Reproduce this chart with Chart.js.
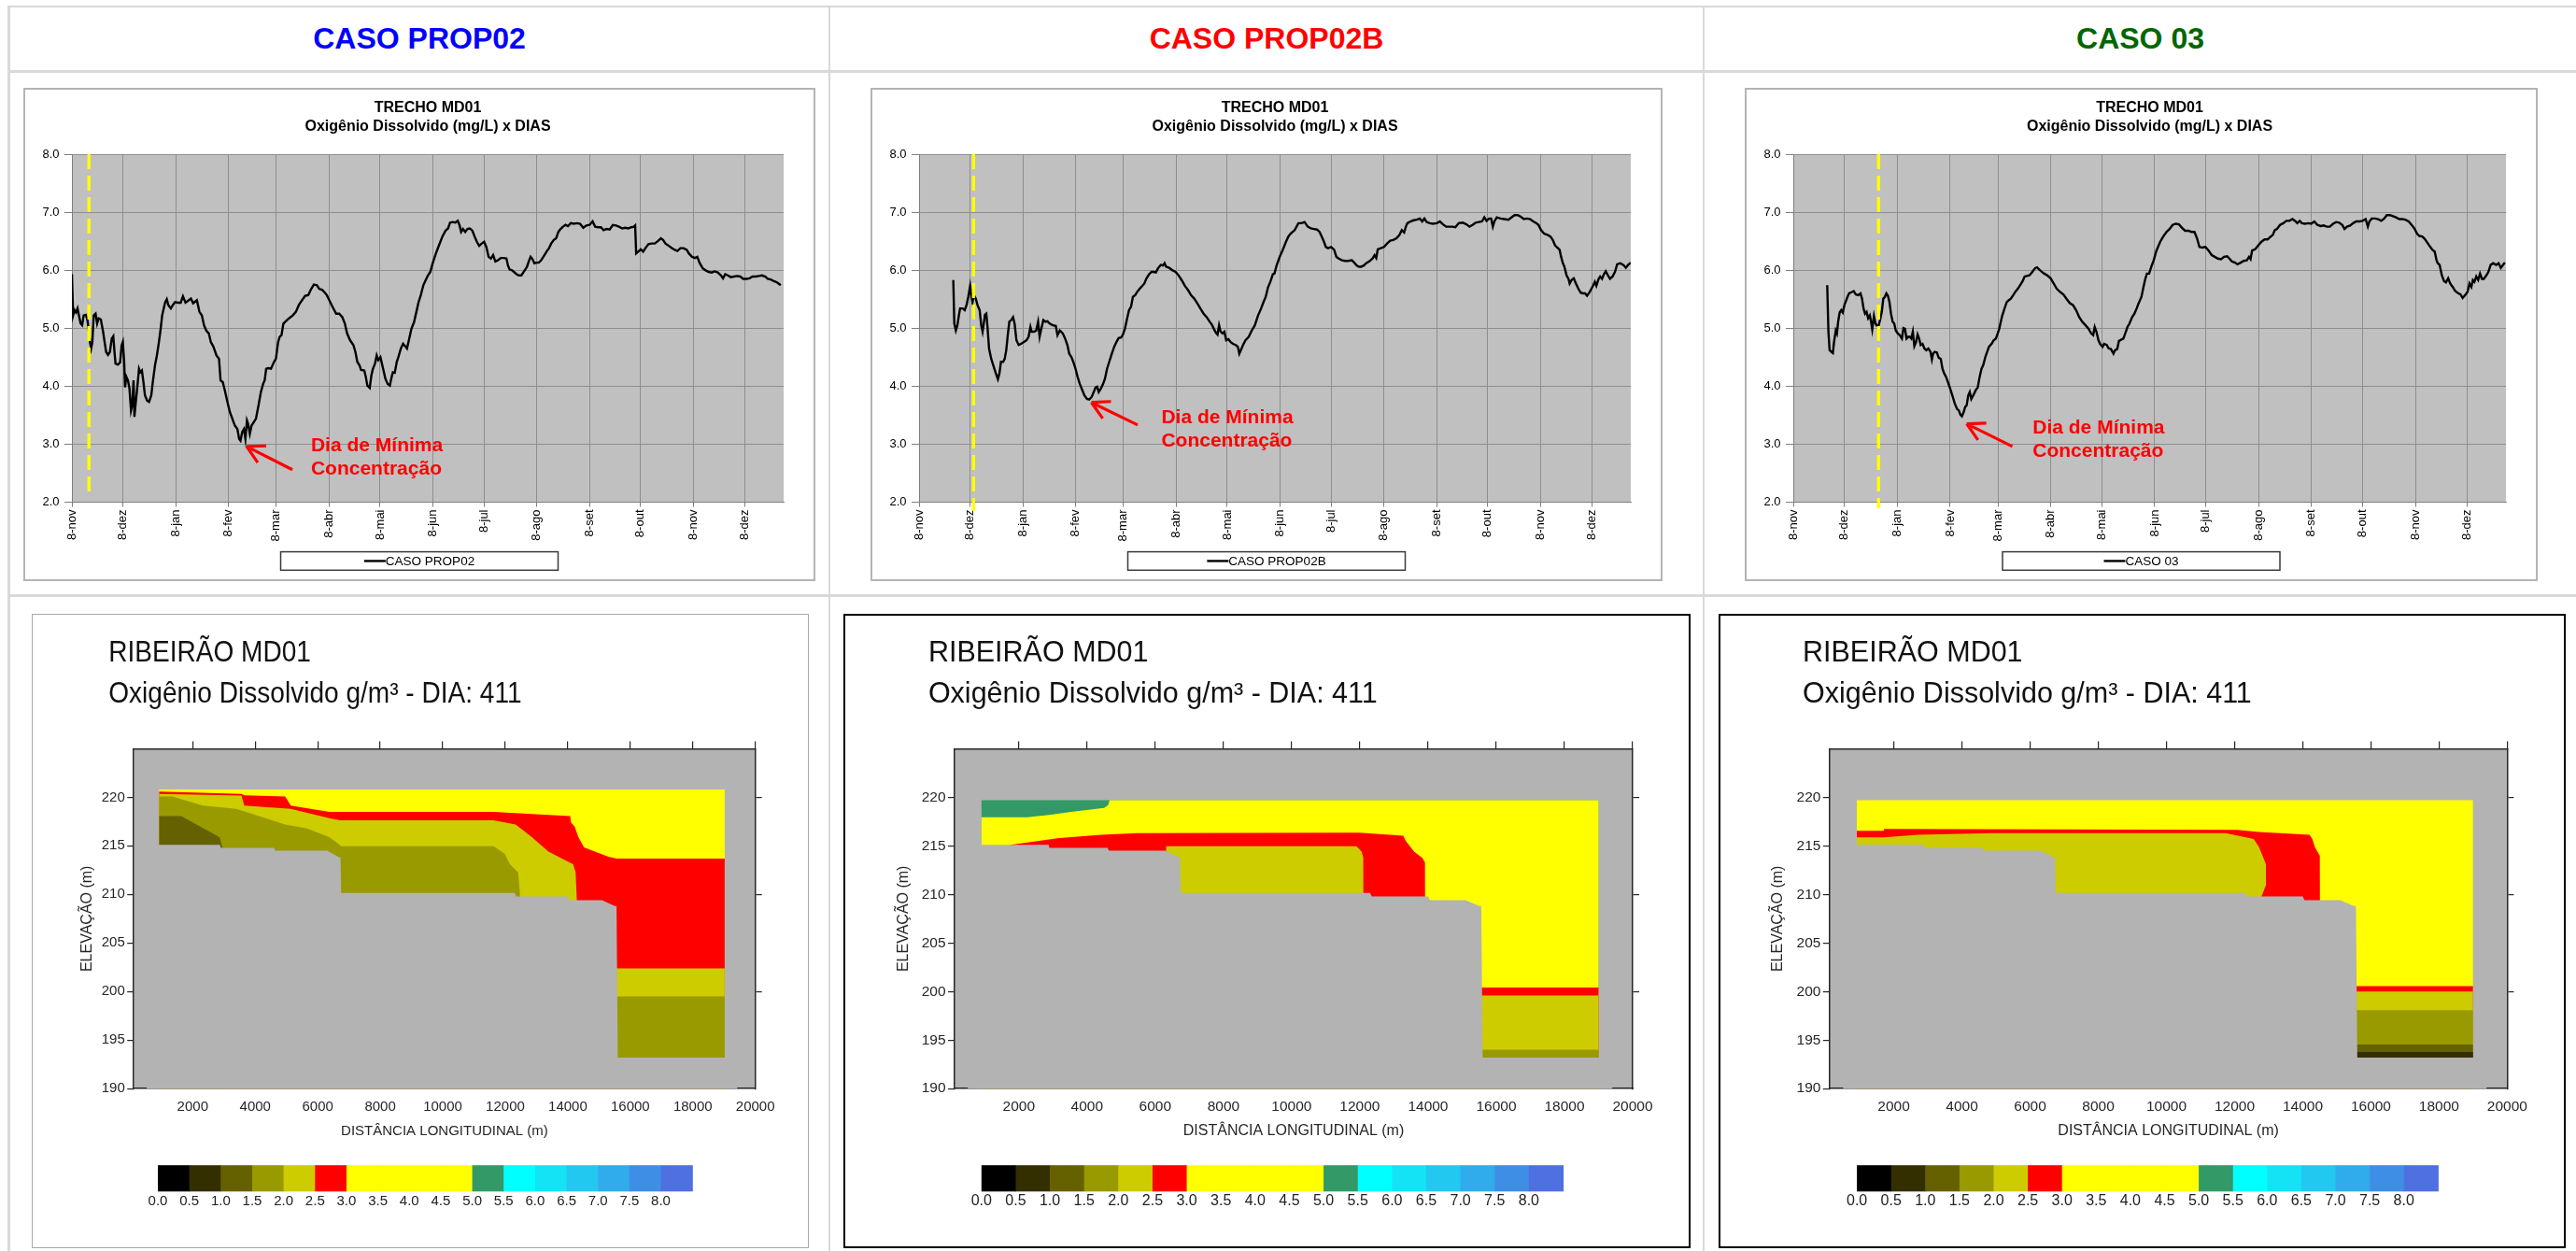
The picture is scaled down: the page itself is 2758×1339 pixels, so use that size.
<!DOCTYPE html>
<html lang="pt-BR">
<head>
<meta charset="utf-8">
<title>Oxigênio Dissolvido – Trecho MD01</title>
<script src="https://cdn.jsdelivr.net/npm/chart.js@4.4.1/dist/chart.umd.min.js"></script>
<style>
  html, body { margin: 0; padding: 0; background: #fff; }
  #page { position: relative; width: 2758px; height: 1339px; overflow: hidden; font-family: Arial, "Liberation Sans", Helvetica, sans-serif; }
  .rule { position: absolute; background: #d9d9d9; }
  .case { position: absolute; top: 18px; height: 46px; line-height: 46px; text-align: center; font-weight: bold; font-size: 32px; }
  .panel { position: absolute; }
  .panel canvas { position: absolute; left: 0; top: 0; }
  .panel .edge { position: absolute; left: 0; top: 0; right: 0; bottom: 0; box-sizing: border-box; pointer-events: none; }
</style>
</head>
<body>
<div id="page">
  <div class="rule" style="left:8px;top:6px;width:2750px;height:2px"></div>
  <div class="rule" style="left:8px;top:75px;width:2750px;height:3px"></div>
  <div class="rule" style="left:8px;top:636px;width:2750px;height:3px"></div>
  <div class="rule" style="left:8px;top:6px;width:3px;height:1333px"></div>
  <div class="rule" style="left:887px;top:6px;width:2px;height:1333px"></div>
  <div class="rule" style="left:1823px;top:6px;width:2px;height:1333px"></div>

  <div class="case" style="left:11px;width:876px;color:#0000ff">CASO PROP02</div>
  <div class="case" style="left:889px;width:934px;color:#ff0000">CASO PROP02B</div>
  <div class="case" style="left:1825px;width:933px;color:#006600">CASO 03</div>

  <div class="panel" style="left:25px;top:94px;width:848px;height:528px"><canvas id="od1" width="848" height="528"></canvas><div class="edge" style="border:2px solid #b4b4b4"></div></div>
  <div class="panel" style="left:932px;top:94px;width:848px;height:528px"><canvas id="od2" width="848" height="528"></canvas><div class="edge" style="border:2px solid #b4b4b4"></div></div>
  <div class="panel" style="left:1868px;top:94px;width:849px;height:528px"><canvas id="od3" width="849" height="528"></canvas><div class="edge" style="border:2px solid #b4b4b4"></div></div>

  <div class="panel" style="left:34px;top:657px;width:832px;height:679px"><canvas id="sec1" width="832" height="679"></canvas><div class="edge" style="border:1.5px solid #a8a8a8"></div></div>
  <div class="panel" style="left:903px;top:657px;width:907px;height:679px"><canvas id="sec2" width="907" height="679"></canvas><div class="edge" style="border:2px solid #000"></div></div>
  <div class="panel" style="left:1840px;top:657px;width:907px;height:679px"><canvas id="sec3" width="907" height="679"></canvas><div class="edge" style="border:2px solid #000"></div></div>
</div>

<script>
const FONT = 'Arial, "Liberation Sans", Helvetica, sans-serif';
Chart.defaults.font.family = FONT;
Chart.defaults.color = '#000';

// ---------- daily dissolved oxygen (mg/L) at TRECHO MD01, [day, value] ----------
const caseNames = ['CASO PROP02', 'CASO PROP02B', 'CASO 03'];
const tickDates = ['2010-11-08','2010-12-08','2011-01-08','2011-02-08','2011-03-08','2011-04-08','2011-05-08',
                   '2011-06-08','2011-07-08','2011-08-08','2011-09-08','2011-10-08','2011-11-08','2011-12-08'];
const tickLabels = ['8-nov','8-dez','8-jan','8-fev','8-mar','8-abr','8-mai','8-jun','8-jul','8-ago','8-set','8-out','8-nov','8-dez'];
const dayMax = 418;

const seriesProp02 = [[0,5.93],[0.7,5.22],[1.5,5.31],[2.4,5.27],[3.3,5.34],[4.2,5.21],[5.1,5.08],[6,5.05],[6.9,5.22],[8.2,5.23],[9.1,5.14],[9.9,4.96],[10.6,4.76],[11.3,4.65],[12,4.76],[12.8,5.22],[13.9,5.25],[14.8,5.08],[15.7,5.17],[17,5.15],[18.3,4.94],[19.2,4.76],[20.1,4.59],[21.2,4.54],[22.3,4.59],[23.4,4.82],[24.3,4.86],[25,4.59],[25.6,4.39],[27,4.37],[28.3,4.41],[29.2,4.7],[29.9,4.76],[30.7,4.41],[31.2,3.98],[32,4.16],[32.9,4.1],[33.8,3.96],[34.7,3.58],[35.4,3.67],[36.2,4.1],[36.7,3.47],[37.6,3.75],[38.5,4.01],[39.4,4.3],[40.2,4.24],[41.1,4.27],[42,4.07],[42.9,3.84],[44.2,3.75],[45.3,3.73],[46.6,3.84],[47.5,4.07],[48.8,4.36],[49.9,4.53],[51.1,4.76],[52,4.96],[53,5.22],[53.9,5.34],[54.8,5.45],[55.7,5.5],[56.6,5.4],[58.1,5.34],[59.3,5.4],[60.6,5.45],[62.1,5.44],[63.9,5.44],[65.2,5.55],[66.7,5.44],[68.5,5.48],[69.9,5.51],[71.2,5.43],[72.1,5.45],[73.4,5.48],[74.9,5.28],[76.3,5.22],[77.6,5.05],[78.9,4.96],[80.4,4.91],[81.6,4.76],[83.1,4.68],[84.9,4.53],[86.4,4.47],[87.3,4.1],[88.6,4.07],[89.8,3.93],[91.3,3.73],[92.8,3.55],[94.2,3.44],[95.7,3.32],[97.2,3.26],[98.2,3.09],[99,3.06],[100,3.21],[101,3.26],[101.9,3.09],[102.8,3.41],[103.5,3.35],[104.5,3.18],[105.5,3.32],[106.8,3.38],[108.1,3.44],[109.6,3.67],[111,3.9],[112.3,4.04],[113.2,4.1],[114.1,4.3],[115.4,4.31],[116.9,4.3],[118.7,4.42],[119.8,4.47],[121.1,4.76],[122,4.85],[123.1,4.88],[124.2,5.08],[125.6,5.12],[127.5,5.17],[129.7,5.22],[131.5,5.28],[133.3,5.4],[135.1,5.48],[137,5.56],[138.8,5.57],[140.6,5.68],[142.1,5.75],[143.9,5.74],[145.2,5.68],[147,5.66],[148.3,5.62],[149.7,5.57],[151.2,5.48],[153,5.37],[155.2,5.25],[157,5.25],[158.8,5.19],[160.3,5.08],[161.6,4.91],[163.4,4.79],[165.3,4.71],[166.5,4.59],[167.6,4.42],[168.9,4.36],[169.8,4.28],[171.7,4.27],[172.6,4.16],[173.5,4.01],[174.9,3.97],[175.9,4.19],[176.8,4.3],[178,4.39],[179,4.53],[179.9,4.45],[181.2,4.5],[182.3,4.36],[183,4.27],[184.1,4.13],[185.4,4.04],[186.7,4.01],[187.8,4.16],[188.5,4.24],[189.6,4.23],[190.8,4.42],[191.7,4.5],[193.2,4.65],[194.5,4.73],[195.7,4.69],[196.8,4.65],[198.1,4.82],[199.4,4.99],[200.9,5.1],[202.3,5.28],[203.6,5.45],[204.9,5.57],[206.4,5.74],[207.8,5.83],[209.1,5.91],[210.5,5.97],[211.9,6.12],[213.8,6.29],[215.6,6.43],[217.6,6.58],[219.4,6.68],[220.9,6.72],[222.1,6.82],[223.6,6.83],[225.2,6.82],[226.6,6.85],[227.6,6.78],[228.6,6.66],[229.7,6.71],[231,6.66],[232.3,6.71],[233.7,6.72],[235.2,6.68],[236.5,6.58],[237.8,6.49],[239.2,6.42],[240.7,6.46],[242.1,6.49],[243.4,6.4],[244.7,6.23],[246.1,6.2],[247.4,6.26],[248.7,6.15],[250.1,6.17],[251.9,6.21],[253.8,6.21],[255.2,6.2],[256.1,6.08],[257.1,6.01],[258.3,6],[259.6,5.97],[261.1,5.93],[262.5,5.91],[264,5.91],[265.1,5.96],[266.2,6.01],[267.3,6.06],[268.3,6.15],[269.4,6.23],[270.5,6.19],[271.6,6.12],[272.9,6.13],[274.2,6.13],[275.6,6.17],[277.5,6.26],[279,6.33],[280.2,6.38],[281.5,6.46],[283,6.52],[284.4,6.55],[285.7,6.66],[287,6.71],[288.4,6.75],[289.9,6.78],[291.3,6.76],[293,6.81],[294.8,6.8],[296.7,6.81],[298.5,6.8],[300.3,6.73],[302.2,6.77],[304,6.78],[305.8,6.84],[307.3,6.75],[309.1,6.74],[310.7,6.74],[312.2,6.69],[314,6.71],[315.8,6.7],[317.7,6.78],[319.5,6.77],[321.3,6.75],[323.2,6.72],[325,6.73],[326.8,6.72],[328.6,6.74],[330.1,6.75],[330.8,6.77],[331.4,6.29],[332.6,6.32],[334.1,6.36],[335.5,6.32],[336.8,6.38],[338.6,6.45],[340.4,6.46],[342.3,6.46],[344.1,6.5],[345.9,6.55],[347.2,6.52],[348.6,6.46],[350.5,6.42],[352.3,6.38],[354.1,6.35],[355.6,6.33],[357.4,6.38],[359.2,6.38],[361.1,6.35],[362.3,6.29],[364.2,6.23],[366,6.21],[367.3,6.23],[368.7,6.12],[370.6,6.03],[372,6],[373.9,5.97],[375.7,5.96],[377.5,5.98],[379.3,5.96],[381.2,5.91],[382.4,5.86],[383.7,5.93],[385.2,5.91],[387,5.88],[388.8,5.89],[390.7,5.9],[392.5,5.89],[394.3,5.85],[396.2,5.85],[398,5.86],[399.8,5.89],[401.7,5.89],[403.5,5.9],[405.3,5.91],[407.2,5.89],[408.6,5.85],[410.4,5.84],[412.3,5.81],[414.1,5.79],[416.3,5.74]];

const seriesProp02b = [[20.1,5.83],[20.7,5.08],[21.6,4.96],[22.5,5.05],[23.4,5.22],[24.1,5.34],[25.6,5.34],[26.8,5.31],[27.9,5.4],[28.9,5.54],[30,5.73],[30.7,5.57],[31.4,5.45],[32.2,5.57],[33.3,5.51],[34.3,5.4],[35.6,5.31],[36.5,5.05],[37.3,4.94],[38,5.08],[38.7,5.23],[39.5,5.25],[40.2,5.02],[41.1,4.65],[42.4,4.47],[43.9,4.33],[45.1,4.22],[46.3,4.12],[47.2,4.22],[48.1,4.42],[49.4,4.42],[50.3,4.47],[51.2,4.62],[52.1,4.88],[53,5.11],[54.1,5.14],[55.2,5.19],[56.1,5.08],[57.2,4.79],[58.5,4.71],[59.9,4.73],[61.4,4.76],[63,4.79],[64.3,4.85],[65.4,5.02],[66.1,4.94],[67.6,4.94],[68.8,4.96],[69.9,5.11],[70.8,4.85],[71.8,4.99],[73,5.14],[74.3,5.11],[75.4,5.12],[76.7,5.08],[78.5,5.05],[80.3,5.04],[81.3,4.88],[82.7,4.96],[84.4,4.91],[85.8,4.82],[87.1,4.71],[88.2,4.56],[89.5,4.5],[90.7,4.41],[91.9,4.3],[93.1,4.16],[94.4,4.04],[95.9,3.93],[97.1,3.84],[98.6,3.78],[99.9,3.77],[101.3,3.81],[102.6,3.9],[103.7,3.98],[104.6,3.99],[105.5,3.9],[106.8,3.96],[108.1,4.04],[109.2,4.13],[110.4,4.3],[111.7,4.42],[113.2,4.56],[114.6,4.68],[115.9,4.76],[117.2,4.83],[118.7,4.84],[119.6,4.88],[120.9,4.99],[122,5.14],[123.3,5.31],[124.5,5.37],[125.6,5.54],[126.9,5.57],[128.2,5.63],[129.6,5.68],[131.1,5.73],[132.3,5.77],[133.6,5.86],[135.1,5.93],[136.5,5.97],[137.8,5.97],[139.1,5.96],[140.5,6.04],[142,6.09],[143.3,6.08],[144.2,6.12],[145.1,6.06],[146.9,6.04],[148.7,6],[150.6,5.97],[152.4,5.91],[154.2,5.83],[156.1,5.73],[157.9,5.66],[159.7,5.57],[161.6,5.51],[163.4,5.43],[165.2,5.34],[167.1,5.25],[168.9,5.19],[170.7,5.11],[172,5.06],[173.1,4.99],[174.4,4.92],[175.3,4.89],[176.2,5.05],[177.1,4.94],[178.2,4.91],[179.3,4.94],[180.4,4.79],[181.7,4.81],[183,4.76],[184.4,4.73],[185.9,4.71],[187.2,4.68],[188.1,4.56],[189,4.62],[190.3,4.71],[191.7,4.79],[193.6,4.85],[195.4,4.96],[197.2,5.05],[199.1,5.22],[200.9,5.34],[202.3,5.45],[203.6,5.54],[204.9,5.7],[206.3,5.8],[207.8,5.93],[208.7,5.94],[210,6.08],[211.8,6.23],[213.6,6.35],[215.5,6.49],[216.9,6.58],[218.2,6.63],[220.6,6.69],[222.8,6.81],[224.6,6.81],[226.4,6.83],[228.3,6.75],[230.1,6.72],[231.9,6.71],[233.7,6.7],[235.2,6.66],[236.5,6.58],[237.8,6.49],[238.9,6.4],[240.2,6.38],[242,6.4],[243.8,6.35],[245.1,6.23],[246.5,6.2],[248.4,6.17],[250.2,6.16],[252,6.16],[254.2,6.17],[255.6,6.13],[257.1,6.08],[258.4,6.06],[259.7,6.06],[261.2,6.08],[262.6,6.12],[264.4,6.15],[266.3,6.2],[267.5,6.26],[268.5,6.21],[269.4,6.36],[271.2,6.38],[273.1,6.4],[274.9,6.46],[276.7,6.51],[278.5,6.52],[280.4,6.55],[282.2,6.61],[283.5,6.69],[284.9,6.65],[285.9,6.75],[286.8,6.81],[288.6,6.84],[290.4,6.86],[292.3,6.87],[294.1,6.89],[295.5,6.84],[296.8,6.89],[298.1,6.83],[299.9,6.81],[301.7,6.8],[304.1,6.81],[305.9,6.84],[307.7,6.79],[309.6,6.75],[311.4,6.75],[313.2,6.75],[315,6.74],[316.9,6.81],[319.3,6.82],[321.4,6.79],[323.3,6.75],[325.1,6.78],[326.9,6.82],[328.8,6.83],[330.6,6.84],[332,6.91],[333.3,6.85],[334.8,6.89],[336,6.89],[337,6.75],[337.9,6.84],[339.3,6.91],[341.5,6.89],[343.7,6.88],[346.1,6.87],[347.9,6.91],[349.7,6.95],[351.6,6.95],[353.4,6.92],[355.2,6.88],[357.1,6.89],[358.9,6.88],[360.7,6.84],[362.6,6.81],[363.8,6.78],[365.3,6.69],[367.1,6.63],[369,6.61],[370.8,6.58],[372.2,6.52],[373.5,6.43],[374.8,6.39],[376.2,6.35],[377.1,6.23],[378.1,6.12],[379,6.06],[380.3,5.91],[381.4,5.85],[382.1,5.77],[383.2,5.83],[384.5,5.86],[385.8,5.77],[387.2,5.68],[388.7,5.61],[390,5.6],[391.2,5.6],[392.3,5.56],[393.6,5.61],[394.9,5.68],[396,5.74],[396.9,5.8],[397.8,5.73],[399.1,5.85],[400,5.89],[401.1,5.85],[402.2,5.93],[403.3,5.98],[404.6,5.91],[405.8,5.85],[407.3,5.89],[408.7,5.97],[410,6.1],[411.8,6.12],[413.7,6.09],[415.1,6.04],[416.4,6.09],[417.9,6.13]];

const seriesCaso03 = [[19.9,5.74],[20.6,4.94],[21.3,4.62],[22.3,4.59],[23.2,4.57],[23.9,4.76],[24.9,4.96],[25.6,4.91],[26.3,5.11],[27.2,5.27],[28.1,5.31],[29,5.27],[30,5.4],[30.9,5.47],[31.8,5.54],[32.7,5.6],[34.2,5.62],[35.4,5.64],[36.7,5.58],[38.1,5.57],[39.4,5.6],[40.3,5.51],[41.2,5.34],[42.1,5.25],[43,5.28],[43.9,5.17],[44.9,5.22],[45.8,5.08],[46.3,4.98],[47.3,5.21],[48.2,5.08],[49.1,5.04],[50,5.04],[50.9,5.14],[51.9,5.28],[52.8,5.51],[53.7,5.54],[54.6,5.6],[55.5,5.56],[56.4,5.45],[57.3,5.25],[58.3,5.11],[59.2,5.08],[60.1,4.96],[61.3,4.91],[62.4,4.88],[63.7,4.82],[64.6,5],[65.5,4.99],[66.4,4.82],[67.4,4.85],[68.3,4.85],[69.2,4.82],[70.1,4.94],[71,4.69],[72,4.76],[72.9,4.89],[73.8,4.82],[74.7,4.71],[75.8,4.73],[76.9,4.65],[78,4.62],[79.2,4.65],[80.5,4.59],[81.3,4.46],[82,4.56],[82.9,4.59],[84.2,4.58],[85.3,4.49],[86.5,4.47],[87.5,4.3],[88.5,4.22],[89.6,4.16],[90.7,4.07],[92,3.96],[93.3,3.84],[94.7,3.7],[96,3.61],[97.1,3.58],[98,3.51],[98.9,3.48],[99.9,3.55],[100.8,3.64],[101.7,3.67],[102.6,3.84],[103.5,3.9],[104.4,3.78],[105.7,3.85],[107,3.93],[108.2,3.98],[109.3,4.16],[110.4,4.3],[111.5,4.37],[112.6,4.5],[113.7,4.59],[114.8,4.68],[116.3,4.73],[117.5,4.79],[118.8,4.82],[119.9,4.91],[120.8,4.99],[121.7,5.11],[122.6,5.22],[123.9,5.34],[125.2,5.45],[126.3,5.48],[127.6,5.51],[129,5.57],[130.3,5.63],[131.7,5.68],[133,5.74],[134.5,5.81],[135.7,5.89],[137,5.9],[138.5,5.91],[139.9,5.96],[141.2,6.01],[142.1,6.04],[143,6.05],[143.9,6.02],[145.4,5.98],[147.2,5.94],[149,5.91],[150.9,5.86],[152.7,5.77],[154.5,5.68],[156.7,5.62],[158.5,5.58],[160.4,5.5],[162.2,5.43],[164,5.4],[165.9,5.31],[167.7,5.19],[169.5,5.11],[171.4,5.05],[173.2,4.99],[174.7,4.91],[175.9,4.88],[176.8,5.02],[177.8,4.94],[179,4.79],[180.1,4.72],[181.4,4.68],[182.3,4.73],[183.8,4.71],[185,4.65],[186.3,4.64],[187.8,4.56],[188.7,4.62],[190,4.64],[191,4.78],[192.3,4.8],[193.6,4.82],[194.7,4.91],[196,5.02],[197.2,5.08],[198.7,5.19],[200.1,5.25],[201.4,5.34],[202.7,5.44],[204.2,5.54],[205.4,5.71],[206.3,5.83],[207.4,5.94],[208.7,5.94],[210,6.06],[211.4,6.17],[212.9,6.33],[215.2,6.49],[217,6.58],[218.9,6.66],[220.7,6.71],[222.5,6.78],[224.3,6.8],[226.2,6.79],[228,6.73],[229.8,6.68],[231.7,6.68],[233.5,6.66],[235.3,6.66],[236.8,6.55],[238.2,6.4],[239.9,6.39],[241.7,6.4],[243.5,6.34],[245.4,6.26],[247.2,6.23],[249,6.2],[250.9,6.19],[252.7,6.23],[254.5,6.24],[255.8,6.2],[257.2,6.15],[259.1,6.13],[260.5,6.1],[262.4,6.13],[264.2,6.16],[266,6.17],[267.3,6.23],[268.2,6.19],[269.1,6.34],[270.9,6.36],[272.8,6.43],[274.6,6.49],[276.4,6.53],[278.2,6.53],[280.1,6.58],[281.3,6.61],[282.4,6.69],[283.7,6.71],[285.5,6.78],[287.4,6.81],[289.2,6.85],[291,6.85],[292.8,6.88],[294.3,6.85],[295.6,6.81],[297,6.85],[298.3,6.81],[300.1,6.8],[302,6.81],[303.8,6.8],[305.6,6.84],[307.4,6.78],[309.3,6.76],[311.1,6.77],[312.9,6.75],[314.7,6.75],[316.6,6.8],[318.4,6.83],[320.2,6.82],[322,6.78],[323.3,6.71],[324.8,6.75],[326.6,6.77],[328.4,6.81],[330.2,6.84],[332.1,6.84],[333.9,6.85],[335.7,6.88],[337,6.75],[337.9,6.84],[339.3,6.89],[341.2,6.89],[343,6.88],[344.8,6.85],[346.6,6.89],[348.1,6.95],[349.9,6.95],[351.7,6.93],[353.5,6.91],[355.4,6.88],[357.2,6.88],[359,6.87],[360.9,6.84],[362.7,6.78],[364.5,6.71],[365.8,6.63],[367.2,6.59],[368.9,6.58],[370.3,6.54],[372.2,6.46],[373.6,6.4],[374.9,6.35],[376.2,6.32],[377.3,6.17],[378,6.12],[379.1,6.09],[380.4,5.91],[381.7,5.81],[382.8,5.79],[384.1,5.86],[385.3,5.77],[386.8,5.71],[388.2,5.64],[390.1,5.6],[391.4,5.58],[392.6,5.52],[394.1,5.57],[395.5,5.63],[396.6,5.77],[397.7,5.71],[398.6,5.83],[399.5,5.8],[400.6,5.89],[401.7,5.83],[402.8,5.94],[403.9,5.85],[405,5.85],[406.5,5.91],[407.7,5.97],[409,6.09],[410.5,6.12],[412.3,6.09],[413.7,6.12],[415,6.04],[416.3,6.09],[417.4,6.13]];

const odSeries = [seriesProp02, seriesProp02b, seriesCaso03];

// simulation day shown in the section plots, per case, and the note on the minimum
const markerDays = [10, 32, 50];
const markerEnds = [2.1, 1.85, 1.9];
const noteAt = [[140.4, 2.97], [142.3, 3.46], [140.4, 3.27]];
const arrowFrom = [[129.5, 2.56], [128.4, 3.33], [128.5, 2.96]];
const arrowTo = [[102.6, 2.96], [101.2, 3.72], [101.7, 3.35]];

// ---------- longitudinal section: distance (m) x elevation (m) ----------
const distTicks = [2000, 4000, 6000, 8000, 10000, 12000, 14000, 16000, 18000, 20000];
const elevTicks = [190, 195, 200, 205, 210, 215, 220];
const elevRightTicks = [200, 210, 220];
const distMin = 115, distMax = 20000, elevMin = 190, elevMax = 225;

const keyLevels = [0.0, 0.5, 1.0, 1.5, 2.0, 2.5, 3.0, 3.5, 4.0, 4.5, 5.0, 5.5, 6.0, 6.5, 7.0, 7.5, 8.0];
const keyColors = ['#000000','#332f00','#666100','#999900','#cccc00','#ff0000','#ffff00','#ffff00','#ffff00','#ffff00',
                   '#339966','#00ffff','#14e3f5','#22c8f0','#30abeb','#3e8ee5','#4f70e0'];
const groundColor = '#b3b3b3';

// river bed below the water column
const bedProfile = [[2870,215.1],[2900,214.8],[4600,214.8],[4640,214.5],[6300,214.5],[6700,213.8],[6730,213.8],[6750,210.15],
                    [12300,210.15],[12350,209.8],[14000,209.8],[14050,209.4],[15100,209.4],[15500,208.8],[15560,208.8],[15600,193.2]];

// each layer: colour class (index into keyColors) and its upper boundary, left to right
const sectionProp02 = { left: 930, right: 19020, layers: [
  { cls: 6, top: [[930,220.8],[19020,220.8]] },
  { cls: 5, top: [[930,220.6],[3560,220.34],[3650,220.2],[4960,220.09],[5140,219.14],[6370,218.5],[11620,218.5],[14080,218.07],[14100,217.42],[14220,216.99],[14340,215.9],[14520,214.84],[14870,214.41],[15300,213.89],[15570,213.68],[19020,213.68]] },
  { cls: 4, top: [[930,220.34],[3560,220.17],[3650,219.14],[5140,218.8],[6370,217.85],[6720,217.64],[11620,217.64],[12330,217.2],[12850,215.9],[13380,214.4],[13900,213.55],[14170,213.12],[14250,212.26],[14290,209.4],[14300,202.37],[19020,202.37]] },
  { cls: 3, top: [[930,220.09],[1340,220.09],[2330,219.14],[3390,218.8],[3910,218.28],[4960,217.2],[5660,216.78],[6370,215.9],[6630,215.27],[6750,214.97],[11620,214.97],[11980,214.2],[12150,213.1],[12410,212.26],[12470,210.15],[12480,199.49],[19020,199.49]] },
  { cls: 2, top: [[930,218.07],[1630,218.07],[2860,215.9],[2950,214.84],[2960,190],[19020,190]] }
]};
const sectionProp02b = { left: 905, right: 19000, layers: [
  { cls: 10, top: [[905,219.7],[19000,219.7]] },
  { cls: 6, top: [[905,217.94],[2240,217.94],[2890,218.19],[3530,218.5],[4500,218.9],[4620,219.2],[4660,219.7],[19000,219.7]] },
  { cls: 5, top: [[905,200.4],[1700,200.4],[1760,215.1],[3130,215.79],[3530,215.9],[4420,216.13],[5460,216.3],[11980,216.35],[13270,216.04],[13350,215.5],[13590,214.4],[13830,213.77],[13910,213.3],[13920,200.4],[19000,200.4]] },
  { cls: 4, top: [[905,199.6],[6300,199.6],[6320,214.97],[11900,214.97],[12050,214.4],[12100,213.8],[12110,199.6],[19000,199.6]] },
  { cls: 3, top: [[905,194.0],[19000,194.0]] }
]};
const sectionCaso03 = { left: 916, right: 18994, layers: [
  { cls: 6, top: [[916,219.7],[18994,219.7]] },
  { cls: 5, top: [[916,216.56],[1700,216.56],[1720,216.73],[12070,216.65],[12720,216.43],[14200,216.13],[14280,215.7],[14360,214.84],[14500,213.98],[14510,200.56],[18994,200.56]] },
  { cls: 4, top: [[916,215.87],[1700,215.87],[2710,216.13],[4840,216.3],[11740,216.3],[12560,215.7],[12720,214.84],[12920,213.12],[12920,210.97],[12760,209.5],[12770,200.0],[18994,200.0]] },
  { cls: 3, top: [[916,198.07],[18994,198.07]] },
  { cls: 2, top: [[916,194.54],[18994,194.54]] },
  { cls: 1, top: [[916,193.77],[18994,193.77]] }
]};
const sections = [sectionProp02, sectionProp02b, sectionCaso03];
const sectionTitle = ['RIBEIRÃO MD01', 'Oxigênio Dissolvido g/m³ - DIA: 411'];

// ---------- helpers ----------
const toXY = pts => pts.map(([x, y]) => ({ x, y }));

function plotFill(color) {
  return { id: 'plotFill', beforeDraw(chart) {
    const { ctx, chartArea: a } = chart;
    ctx.save(); ctx.fillStyle = color;
    ctx.fillRect(a.left, a.top, a.right - a.left, a.bottom - a.top);
    ctx.restore();
  }};
}

function seriesHeading(lines) {
  return { id: 'seriesHeading', afterDraw(chart) {
    const { ctx, chartArea: a } = chart;
    ctx.save();
    ctx.font = 'bold 16px ' + FONT; ctx.fillStyle = '#000';
    ctx.textAlign = 'center'; ctx.textBaseline = 'middle';
    lines.forEach((t, i) => ctx.fillText(t, (a.left + a.right) / 2, 22 + i * 19.5));
    ctx.restore();
  }};
}

function seriesLegend(label) {
  return { id: 'seriesLegend', afterDraw(chart) {
    const { ctx, width } = chart;
    const w = 297, h = 19.7, top = 496.6, cx = width / 2;
    ctx.save();
    ctx.fillStyle = '#fff'; ctx.fillRect(cx - w / 2, top, w, h);
    ctx.strokeStyle = '#3a3a3a'; ctx.lineWidth = 1.5; ctx.strokeRect(cx - w / 2, top, w, h);
    ctx.font = '13.5px ' + FONT;
    const tw = ctx.measureText(label).width, lw = 23;
    const x0 = cx - (lw + tw) / 2, y = top + h / 2;
    ctx.strokeStyle = '#000'; ctx.lineWidth = 2.4;
    ctx.beginPath(); ctx.moveTo(x0, y); ctx.lineTo(x0 + lw, y); ctx.stroke();
    ctx.fillStyle = '#000'; ctx.textAlign = 'left'; ctx.textBaseline = 'middle';
    ctx.fillText(label, x0 + lw, y + 0.5);
    ctx.restore();
  }};
}

function minimumNote(k) {
  return { id: 'minimumNote', afterDatasetsDraw(chart) {
    const { ctx, scales: { x, y } } = chart;
    const px = p => [x.getPixelForValue(p[0]), y.getPixelForValue(p[1])];
    const [tx, ty] = px(arrowFrom[k]), [hx, hy] = px(arrowTo[k]);
    ctx.save();
    ctx.strokeStyle = '#ff0000'; ctx.lineWidth = 3.2; ctx.lineCap = 'butt';
    ctx.beginPath(); ctx.moveTo(tx, ty); ctx.lineTo(hx, hy);
    const ang = Math.atan2(ty - hy, tx - hx);
    for (const s of [-1, 1]) {
      ctx.moveTo(hx, hy);
      ctx.lineTo(hx + 21 * Math.cos(ang + s * 0.5), hy + 21 * Math.sin(ang + s * 0.5));
    }
    ctx.stroke();
    const [lx, ly] = px(noteAt[k]);
    ctx.fillStyle = '#ff0000'; ctx.font = 'bold 21px ' + FONT;
    ctx.textAlign = 'left'; ctx.textBaseline = 'middle';
    ctx.fillText('Dia de Mínima', lx, ly);
    ctx.fillText('Concentração', lx, ly + 25);
    ctx.restore();
  }};
}

function sectionHeading(look) {
  return { id: 'sectionHeading', afterDraw(chart) {
    const { ctx } = chart;
    ctx.save();
    ctx.fillStyle = '#111'; ctx.font = '30.5px ' + FONT;
    ctx.textAlign = 'left'; ctx.textBaseline = 'alphabetic';
    sectionTitle.forEach((t, i) => {
      ctx.save(); ctx.translate(look.titleX, [50.8, 95][i]); ctx.scale(look.titleSX, 1);
      ctx.fillText(t, 0, 0); ctx.restore();
    });
    ctx.restore();
  }};
}

function colorKey(look) {
  return { id: 'colorKey', afterDraw(chart) {
    const { ctx } = chart;
    const w = (look.keyRight - look.keyLeft) / keyColors.length;
    ctx.save();
    keyColors.forEach((c, i) => { ctx.fillStyle = c; ctx.fillRect(look.keyLeft + i * w, 590.2, w + 0.6, 28.1); });
    ctx.fillStyle = '#222'; ctx.font = look.keyFont + 'px ' + FONT;
    ctx.textAlign = 'center'; ctx.textBaseline = 'middle';
    keyLevels.forEach((v, i) => ctx.fillText(v.toFixed(1), look.keyLeft + i * w, 629));
    ctx.restore();
  }};
}

// ---------- DO time series ----------
function seriesChart(canvasId, k) {
  const t0 = Date.parse(tickDates[0]);
  const tickDays = tickDates.map(d => Math.round((Date.parse(d) - t0) / 864e5));
  const gridGrey = '#8e8e8e', axisGrey = '#7f7f7f';
  return new Chart(document.getElementById(canvasId), {
    type: 'line',
    data: { datasets: [
      { label: caseNames[k], data: toXY(odSeries[k]), borderColor: '#000', borderWidth: 2.4,
        pointRadius: 0, tension: 0, fill: false, order: 1 },
      { label: 'dia', data: [{ x: markerDays[k], y: 8 }, { x: markerDays[k], y: markerEnds[k] }],
        borderColor: '#ffff00', borderWidth: 3.4, borderDash: [16, 7], pointRadius: 0, fill: false, clip: false, order: 0 }
    ]},
    options: {
      responsive: false, animation: false, events: [],
      layout: { padding: { left: 7, right: 34, top: 71, bottom: 0 } },
      plugins: { legend: { display: false }, tooltip: { enabled: false } },
      scales: {
        x: {
          type: 'linear', min: 0, max: dayMax,
          afterBuildTicks: s => { s.ticks = tickDays.map(v => ({ value: v })); },
          afterFit: s => { s.height = 84.5; },
          ticks: { autoSkip: false, minRotation: 90, maxRotation: 90, padding: 3, font: { size: 13 }, color: '#000',
                   callback: (v, i) => tickLabels[i] },
          grid: { color: gridGrey, lineWidth: 1, drawTicks: true, tickLength: 5, tickColor: axisGrey },
          border: { display: true, color: axisGrey, width: 1 }
        },
        y: {
          type: 'linear', min: 2, max: 8,
          afterFit: s => { s.width = 45; },
          ticks: { stepSize: 1, padding: 5.5, font: { size: 13 }, color: '#000', callback: v => v.toFixed(1) },
          grid: { color: gridGrey, lineWidth: 1, drawTicks: true, tickLength: 8, tickColor: axisGrey },
          border: { display: true, color: axisGrey, width: 1 }
        }
      }
    },
    plugins: [plotFill('#c0c0c0'), seriesHeading(['TRECHO MD01', 'Oxigênio Dissolvido (mg/L) x DIAS']),
              seriesLegend(caseNames[k]), minimumNote(k)]
  });
}

// ---------- DO longitudinal section ----------
function sectionChart(canvasId, k, look) {
  const sc = sections[k];
  const n = sc.layers.length;
  const clear = 'rgba(0,0,0,0)';
  const datasets = sc.layers.map((L, i) => ({
    data: toXY(L.top.concat([[sc.right, elevMin], [sc.left, elevMin]])), xAxisID: 'x', yAxisID: 'y',
    backgroundColor: keyColors[L.cls], borderColor: clear, borderWidth: 0, fill: 'shape',
    pointRadius: 0, tension: 0, clip: 0, order: n - i + 1
  }));
  // ground under the bed; it reaches a little past the water on both sides and below the axis
  const bedFirst = bedProfile[0][1], bedLast = bedProfile[bedProfile.length - 1][1];
  const ground = [[sc.left - 400, bedFirst], [sc.left, bedFirst]].concat(bedProfile,
                 [[sc.right, bedLast], [sc.right + 400, bedLast], [sc.right + 400, elevMin - 2], [sc.left - 400, elevMin - 2]]);
  datasets.push({ data: toXY(ground), xAxisID: 'x', yAxisID: 'y', backgroundColor: groundColor, borderColor: clear,
                  borderWidth: 0, fill: 'shape', pointRadius: 0, tension: 0, clip: 0, order: 0 });

  const W = look.width, H = 679, ink = '#262626';
  const padL = look.elevTitleX - 9.6;
  const frame = { display: true, color: ink, width: 1.5 };
  return new Chart(document.getElementById(canvasId), {
    type: 'line',
    data: { datasets },
    options: {
      responsive: false, animation: false, events: [],
      layout: { padding: { left: padL, right: W - look.frameRight - 7, top: 144.4 - 8, bottom: H - 562.7 } },
      plugins: { legend: { display: false }, tooltip: { enabled: false } },
      scales: {
        x: {
          type: 'linear', position: 'bottom', min: distMin, max: distMax,
          afterBuildTicks: s => { s.ticks = distTicks.map(v => ({ value: v })); },
          afterFit: s => { s.height = 54.5; },
          ticks: { autoSkip: false, maxRotation: 0, padding: 10.6, font: { size: look.tickFont }, color: ink, callback: v => String(v) },
          grid: { display: true, drawOnChartArea: false, drawTicks: false },
          border: frame,
          title: { display: true, text: 'DISTÂNCIA LONGITUDINAL (m)', font: { size: look.axisFont }, color: ink, padding: 0 }
        },
        xTop: {
          type: 'linear', position: 'top', min: distMin, max: distMax,
          afterBuildTicks: s => { s.ticks = distTicks.map(v => ({ value: v })); },
          afterFit: s => { s.height = 8; },
          ticks: { display: false },
          grid: { display: true, drawOnChartArea: false, drawTicks: true, tickLength: 8, tickColor: ink, lineWidth: 1.2 },
          border: frame
        },
        y: {
          type: 'linear', position: 'left', min: elevMin, max: elevMax,
          afterBuildTicks: s => { s.ticks = elevTicks.map(v => ({ value: v })); },
          afterFit: s => { s.width = look.frameLeft - padL; },
          ticks: { padding: 2.4, font: { size: look.tickFont }, color: ink, callback: v => String(v) },
          grid: { display: true, drawOnChartArea: false, drawTicks: true, tickLength: 7, tickColor: ink, lineWidth: 1.2 },
          border: frame,
          title: { display: true, text: 'ELEVAÇÃO (m)', font: { size: 16 }, color: ink, padding: 0 }
        },
        yRight: {
          type: 'linear', position: 'right', min: elevMin, max: elevMax,
          afterBuildTicks: s => { s.ticks = elevRightTicks.map(v => ({ value: v })); },
          afterFit: s => { s.width = 7; },
          ticks: { display: false },
          grid: { display: true, drawOnChartArea: false, drawTicks: true, tickLength: 7, tickColor: ink, lineWidth: 1.2 },
          border: frame
        }
      }
    },
    plugins: [plotFill(groundColor), sectionHeading(look), colorKey(look)]
  });
}

seriesChart('od1', 0);
seriesChart('od2', 1);
seriesChart('od3', 2);

sectionChart('sec1', 0, { width: 832, frameLeft: 109.2, frameRight: 774.7, elevTitleX: 60, titleX: 82.2, titleSX: 0.92,
                          keyLeft: 135, keyRight: 707.2, tickFont: 15, axisFont: 15, keyFont: 15 });
sectionChart('sec2', 1, { width: 907, frameLeft: 119, frameRight: 845, elevTitleX: 64.5, titleX: 90.9, titleSX: 1,
                          keyLeft: 147.8, keyRight: 770.5, tickFont: 15.5, axisFont: 16, keyFont: 16 });
sectionChart('sec3', 2, { width: 907, frameLeft: 118.8, frameRight: 844.4, elevTitleX: 63.8, titleX: 90, titleSX: 1,
                          keyLeft: 148.1, keyRight: 770.3, tickFont: 15.5, axisFont: 16, keyFont: 16 });
</script>
</body>
</html>
